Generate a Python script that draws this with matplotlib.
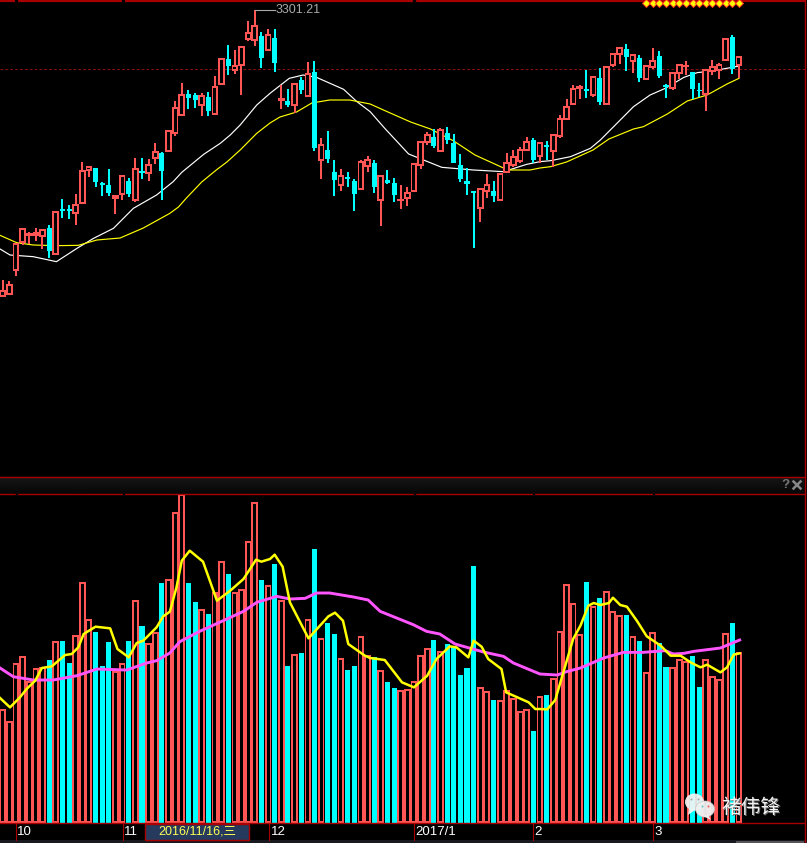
import numpy as np
import matplotlib
matplotlib.use('Agg')
import matplotlib.pyplot as plt
from matplotlib.patches import Rectangle, Ellipse, Polygon

# chart rows are 3x pixel rows of the price pane (smaller = higher price)
body_top = [870, 852, 730, 683, 700, 695, 686, 685, 632, 627, 628, 611, 510, 497, 505, 550, 555, 585, 524, 544,
            505, 514, 493, 452, 458, 389, 320, 281, 282, 285, 284, 291, 257, 173, 177, 195, 138, 95, 76, 108,
            102, 113, 295, 304, 248, 240, 218, 216, 433, 450, 516, 525, 531, 542, 482, 476, 490, 524, 541, 548,
            596, 576, 488, 422, 403, 410, 388, 400, 430, 495, 543, 574, 563, 551, 573, 518, 485, 467, 448, 422,
            420, 427, 435, 401, 355, 317, 263, 258, 268, 227, 234, 197, 160, 140, 147, 161, 175, 194, 179, 168,
            255, 215, 191, 196, 217, 270, 206, 199, 193, 115, 110, 167]
body_bot = [892, 886, 812, 730, 708, 708, 712, 752, 766, 632, 632, 643, 612, 514, 545, 554, 578, 598, 585, 582,
            602, 518, 523, 478, 512, 457, 402, 348, 294, 300, 318, 332, 346, 256, 197, 213, 198, 120, 122, 174,
            154, 190, 303, 316, 318, 270, 290, 443, 484, 476, 540, 558, 538, 581, 570, 502, 560, 603, 549, 585,
            602, 597, 576, 498, 430, 438, 456, 420, 488, 537, 553, 578, 628, 577, 587, 603, 520, 497, 486, 454,
            480, 472, 442, 457, 412, 360, 315, 268, 274, 287, 305, 316, 197, 165, 170, 185, 233, 241, 204, 228,
            260, 266, 223, 202, 266, 274, 284, 217, 212, 184, 208, 199]
wick_hi = [840, 842, 730, 683, 697, 685, 686, 675, 632, 598, 615, 582, 487, 497, 505, 546, 507, 585, 524, 534,
           474, 474, 477, 430, 456, 389, 304, 250, 270, 278, 280, 276, 228, 173, 135, 150, 138, 63, 30, 96,
           88, 87, 255, 268, 248, 230, 186, 183, 415, 393, 480, 507, 516, 538, 480, 468, 480, 524, 510, 534,
           556, 562, 488, 422, 395, 387, 384, 381, 402, 462, 505, 574, 563, 522, 544, 518, 460, 450, 440, 411,
           415, 427, 423, 401, 346, 297, 255, 255, 210, 227, 205, 197, 160, 140, 132, 161, 165, 194, 144, 153,
           252, 215, 191, 183, 217, 250, 206, 180, 190, 115, 105, 167]
wick_lo = [892, 886, 828, 735, 732, 722, 746, 774, 766, 654, 657, 675, 612, 530, 560, 587, 587, 641, 600, 590,
           605, 536, 543, 492, 600, 457, 408, 348, 327, 324, 348, 348, 346, 256, 225, 222, 285, 122, 138, 204,
           154, 215, 326, 320, 340, 282, 292, 452, 537, 488, 587, 572, 560, 632, 570, 515, 578, 677, 552, 605,
           626, 617, 576, 506, 434, 444, 456, 432, 488, 545, 584, 743, 665, 594, 605, 603, 520, 500, 490, 454,
           490, 490, 480, 500, 414, 360, 315, 297, 293, 290, 315, 316, 200, 192, 212, 219, 245, 241, 206, 234,
           293, 269, 236, 225, 298, 290, 332, 225, 237, 184, 222, 235]

# indexes of the falling (cyan) days, everything else is a rising day
cyan_days = [7, 9, 10, 14, 15, 16, 19, 21, 24, 28, 29, 31, 34, 39, 41, 43, 45, 47, 49, 50, 52, 53, 56, 58, 59,
             65, 67, 68, 69, 70, 71, 74, 80, 82, 88, 90, 94, 96, 99, 100, 104, 105, 110]

# volume, height above the pane floor
volume = [340, 304, 478, 499, 426, 463, 466, 489, 544, 546, 480, 562, 721, 610, 573, 471, 543, 454, 478, 546,
          667, 591, 538, 571, 720, 730, 931, 985, 720, 663, 640, 627, 691, 784, 747, 693, 701, 844, 961, 729,
          712, 777, 668, 471, 506, 510, 611, 822, 554, 600, 567, 494, 459, 471, 560, 503, 496, 458, 423, 405,
          398, 401, 424, 503, 523, 549, 515, 537, 528, 444, 465, 771, 407, 395, 369, 368, 398, 374, 335, 341,
          276, 380, 384, 434, 574, 715, 658, 565, 723, 651, 675, 694, 634, 623, 624, 559, 546, 451, 571, 540,
          468, 466, 491, 484, 501, 408, 490, 439, 430, 569, 600, 511]

# moving averages read at their bends: (day, value)
ma_white_x = [-0.4, 1.1, 4.6, 8.1, 11.2, 13.7, 16.7, 19.7, 23.2, 25.7, 27, 30.3, 32.8, 34.3, 35.8, 38.3, 40.3,
              43.2, 45.3, 47.3, 51.4, 53.4, 55.4, 57.6, 61.2, 66.2, 71, 75.5, 79, 81,
              82.6, 85.6, 88.6, 90.1, 95.1, 97.6, 99.9, 102.7, 104.7, 107.2, 109.7, 111]
ma_white_y = [747, 765, 770, 785, 745, 715, 685, 625, 585, 545, 517, 463, 430, 405, 375, 315, 280,
              235, 225, 232, 268, 305, 335, 385, 462, 502, 510, 515, 493, 485,
              482, 470, 445, 420, 320, 285, 265, 232, 218, 212, 203, 198]
ma_yellow_x = [-0.4, 2.1, 4.6, 8.1, 11.4, 14.2, 17.7, 21.2, 25.2, 26.5, 27.7, 30, 32.2, 33.8, 35.8, 38.3, 40.3,
               41.8, 44.3, 46.6, 49.3, 52.3, 55.4, 57.4, 61.5, 64.5, 68, 71.2, 75.5, 76.5, 79.5, 81,
               82.6, 85, 89, 91.4, 95.1, 96.6, 100.2, 103.2, 106.2, 109.2, 111]
ma_yellow_y = [706, 728, 735, 737, 736, 720, 714, 684, 640, 621, 594, 546, 510, 486, 450, 400, 369,
               351, 336, 309, 300, 300, 312, 330, 366, 387, 423, 465, 504, 510, 510, 504,
               500, 486, 450, 417, 387, 380, 342, 303, 285, 252, 235]

vol_yellow_x = [-0.4, 1.1, 2.6, 3.6, 4.9, 5.9, 7.4, 9.4, 10.4, 11.4, 12.2, 14, 16.2, 17.3, 19, 20.2, 21.2, 23.2,
                24.2, 25.2, 26.2, 27, 28.2, 30.2, 32.3, 34.3, 36.3, 38.2, 39, 40.3,
                41, 42.2, 43.3, 46.1, 49.1, 50.1, 51.3, 52.1, 54.6, 55.4, 57.6, 60.2, 62, 64, 65.4, 67.4, 68.4,
                70.2, 71, 72.2, 73.2, 75.2, 75.9, 79.3, 80.3, 81,
                82.1, 83.3, 84.3, 86, 87.1, 88.3, 89.1, 90.1, 91.4, 92, 93.1, 94.1, 95.6, 97.1, 99.2, 100.7,
                102.2, 103.7, 105.2, 106.2, 108.2, 109.2, 110.2, 111.1]
vol_yellow_y = [374, 346, 376, 401, 426, 464, 469, 503, 506, 526, 566, 588, 583, 521, 496, 539, 546, 586,
                619, 633, 706, 786, 816, 783, 666, 696, 731, 789, 783, 791,
                804, 768, 661, 553, 619, 630, 606, 536, 501, 494, 488, 421, 406, 441, 491, 529, 526,
                496, 546, 528, 491, 461, 391, 361, 341, 341,
                340, 368, 436, 551, 591, 651, 659, 653, 659, 675, 653, 648, 606, 559, 531, 501,
                501, 481, 466, 474, 451, 466, 504, 508]
vol_magenta_x = [-0.4, 1.6, 4.6, 7.6, 11.2, 14.2, 18.7, 21.7, 23.2, 25.2, 26.7, 29.7, 33.8, 36.3, 38.3, 40.3,
                 41.3, 43.3, 45.6, 47.3, 49.3, 52.9, 55.1, 56.9, 61.9, 63.9, 65.9, 68.2, 72.5, 75.5, 77, 81,
                 83.6, 85, 87.1, 90.6, 93.6, 96.6, 99.9, 101.1, 102.7, 104.2, 108.2, 111.1]
vol_magenta_y = [464, 438, 428, 428, 441, 461, 458, 479, 486, 509, 543, 574, 611, 634, 661, 673,
                 679, 671, 673, 689, 689, 677, 668, 634, 594, 574, 566, 536, 512, 499, 479, 446,
                 443, 453, 464, 494, 511, 511, 516, 506, 508, 514, 524, 548]

signal_days = list(range(97, 112))  # row of diamonds along the top
high_label = '3301.21'
month_labels = ['10', '11', '12', '2017/1', '2', '3']
month_label_x = [17, 124, 271, 415, 534, 654]
month_tick_x = [16, 123, 269, 414, 533, 653]
cursor_label = '2016/11/16,三'
watermark = '褚伟锋'

RED = '#ff5555'
CYAN = '#00ffff'
FRAME = '#a80000'
W, H = 807, 843
STEP = 6.633
X0 = 2.7
WALL = 6  # 2 px wall of a hollow bar, in chart units

days = np.arange(len(volume))
is_cyan = np.isin(days, cyan_days)


def make_axes(top, bottom):
    a = fig.add_axes([0, 1 - bottom / H, 1, (bottom - top) / H])
    a.set_facecolor('black')
    a.set_xlim(-X0 / STEP, (W - X0) / STEP)
    a.axis('off')
    return a


fig = plt.figure(figsize=(W / 100, H / 100), dpi=100, facecolor='black')
plt.rcParams['font.family'] = ['Liberation Sans', 'Noto Sans CJK SC', 'DejaVu Sans']

################ price pane ##############
ax = make_axes(0, 477)
ax.set_zorder(5)  # diamonds sit on top of the frame line
ax.set_ylim(477 * 3, 0)
ax.axhline(208, color='#8a1010', lw=0.7, ls=(0, (3, 2)))
ax.plot(ma_white_x, ma_white_y, color='white', lw=0.85, zorder=2)
ax.plot(ma_yellow_x, ma_yellow_y, color='#ffff00', lw=0.85, zorder=2)

wick_colors = [CYAN if c else RED for c in is_cyan]
ax.vlines(days, wick_hi, wick_lo, colors=wick_colors, lw=1.3, zorder=3, antialiased=False)
body_top_a = np.array(body_top)
body_bot_a = np.array(body_bot)
body_h = body_bot_a - body_top_a
ax.bar(days[is_cyan], body_h[is_cyan], bottom=body_top_a[is_cyan], width=0.76,
       color=CYAN, zorder=6, antialiased=False)
# rising days are hollow: red block with a black core
ax.bar(days[~is_cyan], body_h[~is_cyan], bottom=body_top_a[~is_cyan], width=1.0,
       color=RED, zorder=4, antialiased=False)
core_h = np.maximum(body_h - 2 * WALL, 0)
ax.bar(days[~is_cyan], core_h[~is_cyan], bottom=(body_top_a + WALL)[~is_cyan], width=0.45,
       color='black', zorder=5, antialiased=False)

ax.plot(signal_days, [10] * len(signal_days), ls='none', marker='D', ms=3.6, mfc='#ffff00', mec='#ff3020',
        mew=0.7, zorder=7, clip_on=False)

peak = int(np.argmin(wick_hi))
ax.plot([peak, peak + 3.0], [wick_hi[peak], wick_hi[peak]], color='#a8a8a8', lw=0.8, zorder=5)
ax.text(peak + 3.1, wick_hi[peak], high_label, color='#a8a8a8', fontsize=9, va='center', ha='left')

################ volume pane ##############
ax2 = make_axes(494, 822.7)
ax2.set_ylim(0, 986)
vol = np.array(volume)
ax2.bar(days[~is_cyan], vol[~is_cyan], width=1.0, color=RED, zorder=2, antialiased=False)
ax2.bar(days[~is_cyan], (vol - 2 * WALL)[~is_cyan], bottom=WALL, width=0.45, color='black', zorder=3, antialiased=False)
ax2.bar(days[is_cyan], vol[is_cyan], width=0.76, color=CYAN, zorder=4, antialiased=False)
ax2.plot(vol_magenta_x, vol_magenta_y, color='#ff55ff', lw=2.1, zorder=5)
ax2.plot(vol_yellow_x, vol_yellow_y, color='#ffff00', lw=1.8, zorder=6)

################ frame, header, date strip ##############
ov = fig.add_axes([0, 0, 1, 1], facecolor='none')
ov.set_xlim(0, W)
ov.set_ylim(H, 0)
ov.axis('off')

band = np.linspace(0.09, 0.03, 16).reshape(-1, 1)
ov.imshow(band, extent=(0, 804, 494, 477), cmap='gray', vmin=0, vmax=1, aspect='auto', zorder=1)
ov.set_xlim(0, W)
ov.set_ylim(H, 0)

ov.add_patch(Rectangle((0, 840), W, 3, color='#181a20', lw=0, zorder=1))
ov.add_patch(Rectangle((736, 841), 68, 2, color='#555555', lw=0, zorder=1))

for y, lw in [(0.7, 1.6), (477, 1.0), (494, 1.0), (823, 1.0)]:
    ov.plot([0, 804], [y, y], color=FRAME, lw=lw, zorder=2)
ov.plot([804.5, 804.5], [0, H], color=FRAME, lw=1.0, zorder=2)

# small notches in the pane borders at month starts
for x in [16, 123, 414]:
    ov.plot([x, x + 1], [0.7, 0.7], color='black', lw=1.6, zorder=3)
for x in [16, 123, 414, 533, 653]:
    ov.plot([x, x + 1], [494, 494], color='black', lw=1.0, zorder=3)

for x in month_tick_x:
    ov.plot([x, x], [823, 840], color=FRAME, lw=0.8, zorder=2)
for x, s in zip(month_label_x, month_labels):
    ov.text(x, 832, s, color='white', fontsize=9.5, va='center', ha='left', zorder=3)

ov.add_patch(Rectangle((145, 823.5), 104, 16, facecolor='#263a5e', edgecolor=FRAME, lw=1.0, zorder=4))
ov.text(197, 832, cursor_label, color='#ffff55', fontsize=9, va='center', ha='center', zorder=5)

ov.text(789, 485, '?', color='#777777', fontsize=9.5, fontweight='bold', va='center', ha='right', zorder=3)
ov.plot([793.5, 800.5], [481.5, 488.5], color='#888888', lw=1.8, zorder=3)
ov.plot([793.5, 800.5], [488.5, 481.5], color='#888888', lw=1.8, zorder=3)

################ watermark ##############
ov.add_patch(Ellipse((694.5, 802), 19, 17, color='#f4f4f4', alpha=0.92, lw=0, zorder=6))
ov.add_patch(Polygon([(689, 808), (688, 815), (695, 810)], color='#f4f4f4', alpha=0.92, lw=0, zorder=6))
ov.add_patch(Ellipse((705, 809), 19, 16, color='#f0f0f0', alpha=0.96, ec='#c8c8c8', lw=0.5, zorder=7))
ov.add_patch(Polygon([(708, 815), (711, 820), (703, 816)], color='#f0f0f0', alpha=0.96, lw=0, zorder=7))
for x, y, col in [(691, 799, '#aaaaaa'), (698, 799, '#aaaaaa'), (702, 806, '#66cccc'), (708, 806, '#ee6666')]:
    ov.plot([x], [y], marker='o', ms=1.5, color=col, mew=0, zorder=8)
ov.text(752, 808.5, watermark, color='#777777', fontsize=14.2, family=['Noto Sans CJK SC', 'DejaVu Sans'],
        va='center', ha='center', zorder=8)
ov.text(751.3, 807.8, watermark, color='#f2f2f2', fontsize=14.2, family=['Noto Sans CJK SC', 'DejaVu Sans'],
        va='center', ha='center', zorder=9)

fig.savefig('out.png', dpi=100, facecolor='black')
